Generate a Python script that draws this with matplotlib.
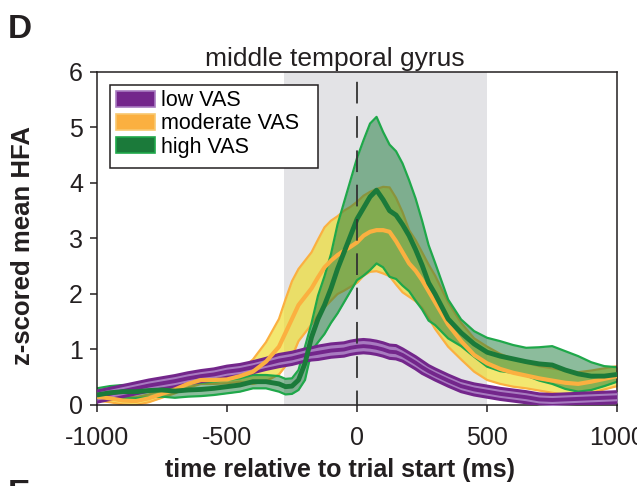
import matplotlib
matplotlib.use("Agg")
import matplotlib.pyplot as plt
from matplotlib.patches import Patch, Rectangle
import numpy as np

plt.rcParams['font.family'] = ['Liberation Sans', 'DejaVu Sans']
plt.rcParams['axes.unicode_minus'] = False

# ---------------- data ----------------
time_ms = [-1000, -950, -900, -850, -800, -750, -700, -650, -600, -550, -500, -450, -400, -350,
           -300, -275, -250, -225, -200, -175, -150, -125, -100, -75, -50, -25, 0, 25, 50, 75,
           100, 125, 150, 175, 200, 225, 250, 275, 300, 350, 400, 450, 500, 550, 600, 650, 700,
           750, 800, 850, 900, 950, 1000]

low_mean = [0.15, 0.20, 0.25, 0.30, 0.35, 0.39, 0.43, 0.48, 0.52, 0.55, 0.60, 0.63, 0.68, 0.74,
            0.80, 0.82, 0.84, 0.87, 0.90, 0.92, 0.94, 0.96, 0.98, 0.99, 1.00, 1.03, 1.05, 1.06, 1.05, 1.03,
            1.00, 0.96, 0.95, 0.90, 0.83, 0.76, 0.68, 0.61, 0.55, 0.44, 0.34, 0.28, 0.24, 0.20, 0.17, 0.14, 0.10,
            0.09, 0.10, 0.11, 0.12, 0.13, 0.14]
low_sem = [0.10, 0.10, 0.10, 0.10, 0.10, 0.10, 0.10, 0.10, 0.10, 0.10, 0.10, 0.10, 0.10, 0.10,
           0.11, 0.11, 0.11, 0.11, 0.11, 0.11, 0.12, 0.12, 0.12, 0.12, 0.12, 0.12, 0.12, 0.12, 0.12, 0.12,
           0.12, 0.12, 0.12, 0.11, 0.11, 0.11, 0.11, 0.10, 0.10, 0.10, 0.10, 0.10, 0.10, 0.10, 0.10, 0.10, 0.10,
           0.10, 0.10, 0.10, 0.10, 0.10, 0.10]

mod_mean = [0.15, 0.12, 0.08, 0.07, 0.12, 0.20, 0.28, 0.38, 0.45, 0.45, 0.46, 0.52, 0.60, 0.78,
            1.05, 1.30, 1.55, 1.80, 1.95, 2.10, 2.30, 2.48, 2.60, 2.70, 2.78, 2.85, 2.93, 3.05, 3.12, 3.15,
            3.15, 3.12, 2.95, 2.75, 2.55, 2.42, 2.25, 2.05, 1.85, 1.45, 1.15, 0.90, 0.75, 0.65, 0.58, 0.53, 0.48,
            0.44, 0.40, 0.38, 0.42, 0.47, 0.52]
mod_sem = [0.07, 0.07, 0.07, 0.07, 0.07, 0.07, 0.07, 0.07, 0.07, 0.07, 0.07, 0.10, 0.22, 0.35,
           0.50, 0.60, 0.68, 0.65, 0.65, 0.65, 0.68, 0.72, 0.72, 0.70, 0.72, 0.72, 0.73, 0.72, 0.72, 0.74,
           0.78, 0.80, 0.78, 0.72, 0.60, 0.55, 0.50, 0.48, 0.48, 0.40, 0.33, 0.30, 0.30, 0.27, 0.25, 0.23, 0.22,
           0.22, 0.22, 0.21, 0.20, 0.19, 0.18]

high_mean = [0.18, 0.22, 0.24, 0.24, 0.26, 0.27, 0.25, 0.27, 0.28, 0.30, 0.33, 0.36, 0.42, 0.42,
             0.38, 0.33, 0.34, 0.45, 0.75, 1.22, 1.55, 1.80, 2.10, 2.45, 2.75, 3.05, 3.35, 3.55, 3.75, 3.87,
             3.70, 3.50, 3.42, 3.25, 3.05, 2.80, 2.52, 2.20, 2.00, 1.55, 1.30, 1.10, 0.95, 0.88, 0.83, 0.78, 0.74,
             0.72, 0.63, 0.56, 0.52, 0.52, 0.55]
high_sem = [0.12, 0.12, 0.12, 0.12, 0.12, 0.12, 0.12, 0.12, 0.12, 0.12, 0.12, 0.12, 0.12, 0.12,
            0.14, 0.14, 0.14, 0.18, 0.30, 0.25, 0.42, 0.52, 0.62, 0.80, 0.90, 1.00, 1.10, 1.22, 1.32, 1.32,
            1.22, 1.19, 1.15, 1.10, 1.00, 0.92, 0.80, 0.68, 0.56, 0.35, 0.24, 0.23, 0.26, 0.27, 0.25, 0.25, 0.30,
            0.34, 0.34, 0.32, 0.25, 0.18, 0.13]

series_labels = ['low VAS', 'moderate VAS', 'high VAS']
title = 'middle temporal gyrus'
xlabel = 'time relative to trial start (ms)'
ylabel = 'z-scored mean HFA'
xticks = [-1000, -500, 0, 500, 1000]
yticks = [0, 1, 2, 3, 4, 5, 6]
window = (-280, 500)

# ---------------- styles ----------------
PURPLE = '#73268B'
PURPLE_FILL = '#A87BC0'
ORANGE = '#FBB040'
YELLOW = '#EEDD33'
DKGREEN = '#1B7A3A'
BRGREEN = '#1FA84A'
INK = '#231F20'

fig = plt.figure(figsize=(6.37, 4.86), dpi=100)
ax = fig.add_axes([0.152, 0.1667, 0.817, 0.6853])

t = np.array(time_ms)
lm, ls = np.array(low_mean), np.array(low_sem)
mm, ms = np.array(mod_mean), np.array(mod_sem)
hm, hs = np.array(high_mean), np.array(high_sem)

ax.axvspan(window[0], window[1], color='#E3E3E6', lw=0, zorder=0)

# moderate band
ax.fill_between(t, mm - ms, mm + ms, color=YELLOW, alpha=0.7, lw=0, zorder=1)
ax.plot(t, mm + ms, color=ORANGE, lw=1.6, zorder=1.1)
ax.plot(t, mm - ms, color=ORANGE, lw=1.6, zorder=1.1)
# high band
ax.fill_between(t, hm - hs, hm + hs, color=DKGREEN, alpha=0.5, lw=0, zorder=2)
ax.plot(t, hm + hs, color=BRGREEN, lw=1.6, zorder=2.1)
ax.plot(t, hm - hs, color=BRGREEN, lw=1.6, zorder=2.1)
# low band
ax.fill_between(t, lm - ls, lm + ls, color=PURPLE_FILL, lw=0, zorder=3)
ax.plot(t, lm + ls, color=PURPLE, lw=2.2, zorder=3.1)
ax.plot(t, lm - ls, color=PURPLE, lw=2.2, zorder=3.1)
ax.plot(t, lm, color=PURPLE, lw=2.8, zorder=3.2)
# means
ax.plot(t, mm, color=ORANGE, lw=3.0, zorder=4)
ax.plot(t, hm, color=DKGREEN, lw=3.5, zorder=5)

ax.axvline(0, color='#333333', lw=1.3, linestyle=(4, (12, 7)), zorder=6)

ax.set_xlim(-1000, 1000)
ax.set_ylim(0, 6)
ax.set_xticks(xticks)
ax.set_yticks(yticks)
ax.tick_params(direction='out', length=5, width=1.1, labelsize=18, colors=INK)
ax.tick_params(axis='x', pad=10)
ax.tick_params(axis='y', pad=5)
for sp in ax.spines.values():
    sp.set_linewidth(1.1)
    sp.set_color(INK)

ttl = ax.set_title(title, fontsize=19, color=INK, pad=4)
ttl.set_x(0.458)
ax.set_xlabel(xlabel, fontsize=18, fontweight='bold', color=INK)
ax.xaxis.set_label_coords(0.467, -0.158)
ax.set_ylabel(ylabel, fontsize=18.5, fontweight='bold', color=INK)
ax.yaxis.set_label_coords(-0.118, 0.48)

# legend: separate frame rectangle + frameless legend
ax.add_patch(Rectangle((0.025, 0.712), 0.40, 0.249, transform=ax.transAxes, facecolor='white',
                       edgecolor=INK, lw=1.1, zorder=9))
handles = [Patch(facecolor=PURPLE, edgecolor=PURPLE_FILL, lw=1.2),
           Patch(facecolor=ORANGE, edgecolor='#F8C870', lw=1.2),
           Patch(facecolor=DKGREEN, edgecolor=BRGREEN, lw=1.2)]
leg = ax.legend(handles, series_labels, loc='upper left', bbox_to_anchor=(0.036, 0.945),
                fontsize=15.5, frameon=False,
                handlelength=1.85, handleheight=0.74, handletextpad=0.28, labelspacing=0.1,
                borderpad=0, borderaxespad=0)
leg.set_zorder(10)

fig.text(0.012, 0.922, 'D', fontsize=24, fontweight='bold', color=INK)
fig.text(0.012, -0.035, 'E', fontsize=24, fontweight='bold', color=INK)

fig.savefig('out.png', dpi=100)
